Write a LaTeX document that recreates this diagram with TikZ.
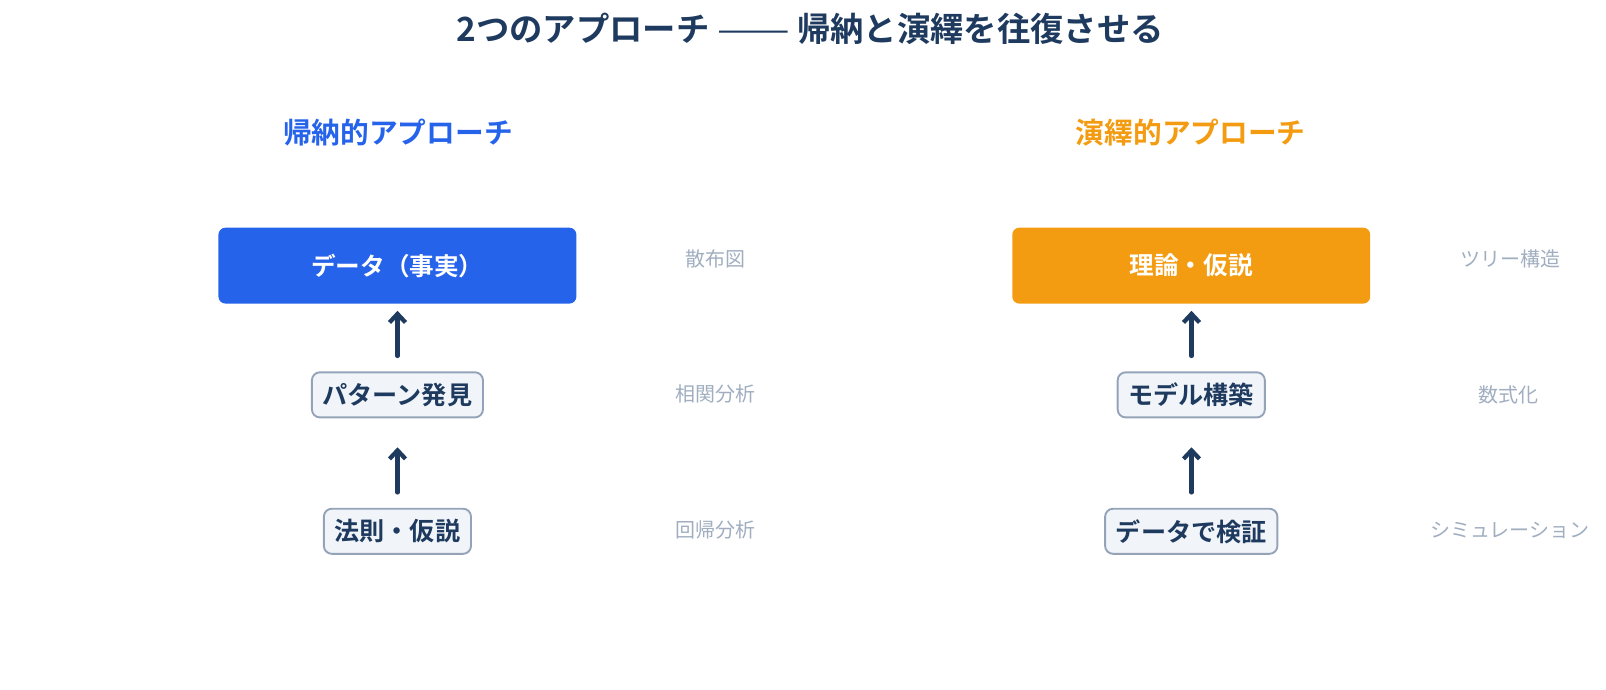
\documentclass[tikz,border=0pt]{standalone}
\usepackage{fontspec}
\usepackage{graphicx}
\setmainfont{Noto Sans CJK JP}
\newfontfamily\jpbold{Noto Sans CJK JP Bold}
\newfontfamily\jpreg{Noto Sans CJK JP}
\usetikzlibrary{arrows.meta}
\definecolor{navy}{HTML}{1E3A5F}
\definecolor{blueA}{HTML}{2563EB}
\definecolor{orangeA}{HTML}{F39C12}
\definecolor{boxfill}{HTML}{F1F5F9}
\definecolor{boxline}{HTML}{94A3B8}
\definecolor{sidegray}{HTML}{A0AEC0}
\tikzset{
  mainbox/.style={rounded corners=7pt, minimum width=349pt, minimum height=74pt, text=white, font=\jpbold\fontsize{24}{28}\selectfont, inner sep=0pt},
  stepbox/.style={rounded corners=8pt, draw=boxline, line width=1.9pt, fill=boxfill, text=navy, font=\jpbold\fontsize{24.5}{28}\selectfont, minimum height=44pt, inner xsep=10.5pt, inner ysep=0pt},
  sidelabel/.style={text=sidegray, font=\fontsize{19.5}{24}\selectfont, inner sep=0pt},
  uparrow/.style={draw=navy, line width=4.3pt, line cap=round, -{Straight Barb[length=8.5pt,width=16pt,line width=4.3pt]}},
  heading/.style={font=\jpbold\fontsize{28}{32}\selectfont, inner sep=0pt}
}
\begin{document}
\begin{tikzpicture}[x=1pt,y=-1pt,scale=1.0256,transform shape]
\useasboundingbox (0,0) rectangle (1565.9,671.8);
\node[font=\jpbold\fontsize{32.5}{38}\selectfont, text=navy, inner sep=0pt] (title) at (790,28) {2つのアプローチ {\jpreg\scalebox{1.3}[1]{——}} 帰納と演繹を往復させる};
\node[heading, text=blueA] (hl) at (388,129) {帰納的アプローチ};
\node[heading, text=orangeA] (hr) at (1161,129) {演繹的アプローチ};
% left column
\node[mainbox, fill=blueA] (l1) at (387.5,259) {データ（事実）};
\node[stepbox] (l2) at (387.5,385) {パターン発見};
\node[stepbox] (l3) at (387.5,518) {法則・仮説};
\coordinate (l1b) at (387.5,303);
\coordinate (l2t) at (387.5,347);
\coordinate (l2b) at (387.5,436);
\coordinate (l3t) at (387.5,480);
\draw[uparrow] (l2t) -- (l1b);
\draw[uparrow] (l3t) -- (l2b);
\node[sidelabel] (s1) at (698,252) {散布図};
\node[sidelabel] (s2) at (698,384) {相関分析};
\node[sidelabel] (s3) at (698,517) {回帰分析};
% right column
\node[mainbox, fill=orangeA] (r1) at (1161.5,259) {理論・仮説};
\node[stepbox] (r2) at (1161.5,385) {モデル構築};
\node[stepbox] (r3) at (1161.5,518) {データで検証};
\coordinate (r1b) at (1161.5,303);
\coordinate (r2t) at (1161.5,347);
\coordinate (r2b) at (1161.5,436);
\coordinate (r3t) at (1161.5,480);
\draw[uparrow] (r2t) -- (r1b);
\draw[uparrow] (r3t) -- (r2b);
\node[sidelabel] (t1) at (1473,252) {ツリー構造};
\node[sidelabel] (t2) at (1471,385) {数式化};
\node[sidelabel] (t3) at (1472,517) {シミュレーション};
\end{tikzpicture}
\end{document}
